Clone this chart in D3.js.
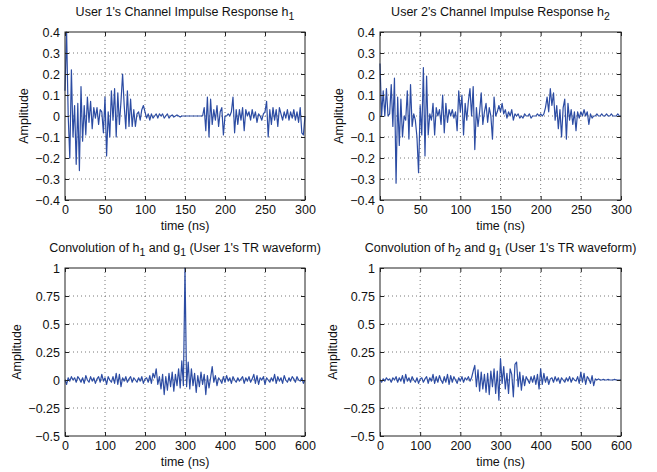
<!DOCTYPE html>
<html lang="en">
  <head>
    <meta charset="UTF-8" />
    <title>Channel Impulse Response and TR Convolution</title>
    <script src="https://d3js.org/d3.v7.min.js"></script>
    <style>
      body { margin: 0; background: #fff; }
      svg { font-family: "Liberation Sans", Arial, Helvetica, sans-serif; }
      .grid line { stroke: #555; stroke-dasharray: 1, 3; stroke-width: 0.8; }
      .tick-lbl { font-size: 12.5px; fill: #111; }
    </style>
  </head>
  <body>
    <svg id="canvas"></svg>
  </body>
  <script>
    // h1, sampled every 2 ns from 0 to 300 ns
    let h1 = [
      0.12, 0.40, 0.00, -0.20, 0.22, -0.10, 0.05, -0.23, 0.06, -0.26,
      0.14, -0.12, 0.05, -0.09, 0.09, -0.03, 0.07, -0.06, 0.04, -0.01,
      0.04, -0.04, 0.03, 0.02, -0.08, 0.09, -0.19, 0.02, -0.10, 0.12,
      -0.02, 0.13, -0.10, 0.11, -0.04, 0.07, 0.20, 0.05, -0.06, 0.12,
      -0.05, 0.08, -0.05, 0.03, -0.05, 0.01, 0.02, -0.02, 0.03, 0.05,
      0.02, -0.01, 0.01, -0.02, 0.01, -0.01, 0.00, 0.01, -0.01, 0.01,
      0.00, 0.01, -0.01, 0.00, 0.01, -0.01, 0.00, 0.005, -0.005, 0.00,
      0.005, 0.00, -0.005, 0.00, 0.00, 0.00, 0.00, 0.00, 0.00, 0.00,
      0.00, 0.00, 0.00, 0.00, 0.00, 0.00, 0.00, 0.04, -0.07, 0.09,
      -0.10, 0.08, -0.04, 0.03, -0.02, 0.05, -0.05, 0.02, 0.04, -0.09,
      0.00, 0.00, 0.01, 0.00, 0.02, 0.09, -0.08, 0.03, -0.04, 0.03,
      -0.02, 0.04, -0.07, 0.03, 0.00, 0.02, -0.02, 0.03, -0.01, 0.02,
      -0.03, 0.01, 0.00, -0.02, 0.01, 0.02, 0.07, -0.10, 0.03, -0.04,
      0.04, -0.02, 0.03, -0.05, 0.04, 0.01, -0.02, 0.02, -0.01, 0.03,
      -0.02, 0.02, -0.01, 0.03, -0.02, 0.02, -0.03, 0.04, -0.08, -0.09,
      0.00
    ];

    // h2, sampled every 2 ns from 0 to 300 ns
    let h2 = [
      0.25, 0.00, 0.12, 0.00, 0.13, 0.00, 0.01, 0.15, -0.05, 0.18,
      -0.32, 0.09, -0.14, 0.08, -0.10, 0.00, -0.02, 0.12, -0.11, 0.15,
      -0.05, 0.01, -0.02, -0.10, -0.27, 0.05, -0.09, 0.23, -0.19, 0.19,
      -0.09, 0.01, -0.02, 0.06, -0.09, 0.04, 0.00, 0.03, -0.04, 0.10,
      -0.08, 0.06, -0.03, 0.03, 0.00, 0.03, -0.01, 0.02, -0.07, 0.12,
      0.02, 0.10, -0.09, 0.06, -0.02, 0.07, 0.13, 0.00, 0.14, -0.16,
      0.04, -0.05, 0.02, 0.11, -0.04, 0.02, 0.06, -0.03, 0.04, 0.00,
      -0.11, 0.09, 0.00, 0.02, 0.05, 0.02, 0.06, 0.01, 0.03, -0.01,
      0.02, 0.00, 0.03, -0.02, 0.01, 0.00, 0.01, -0.01, 0.00, -0.01,
      0.01, 0.00, 0.00, 0.01, -0.01, 0.00, 0.00, 0.00, 0.01, 0.00,
      0.01, 0.00, 0.01, 0.04, 0.09, 0.02, 0.13, 0.05, 0.11, -0.02,
      0.05, -0.06, 0.03, -0.10, 0.04, 0.08, -0.11, 0.06, -0.02, 0.03,
      -0.04, 0.02, -0.07, 0.02, -0.01, 0.02, 0.00, 0.03, 0.00, 0.02,
      -0.04, 0.01, -0.01, 0.00, 0.00, 0.01, 0.00, 0.00, 0.01, 0.00,
      0.00, 0.01, 0.00, 0.00, 0.01, 0.00, 0.00, 0.00, 0.01, 0.00,
      0.00
    ];

    // h1 * g1, sampled every 4 ns from 0 to 600 ns
    let conv1 = [
      0.00, -0.04, 0.02, -0.01, 0.03, 0.00, 0.02, -0.02, 0.03, 0.01,
      -0.02, 0.02, -0.03, 0.04, 0.00, -0.02, 0.03, -0.01, 0.02, -0.03,
      0.01, 0.03, -0.02, 0.05, -0.01, 0.02, -0.04, 0.03, 0.00, -0.02,
      0.03, -0.03, 0.06, -0.04, 0.05, -0.06, 0.02, -0.01, 0.03, -0.02,
      0.01, 0.03, -0.02, 0.02, 0.00, -0.02, 0.02, -0.01, 0.03, -0.03,
      0.01, 0.02, -0.02, 0.04, -0.03, 0.06, 0.02, 0.10, -0.04, 0.03,
      -0.08, 0.05, -0.13, 0.03, -0.09, 0.06, -0.06, 0.07, -0.10, 0.05,
      -0.05, 0.10, -0.07, 0.17, -0.05, 1.00, -0.06, 0.16, -0.08, 0.10,
      -0.05, 0.06, -0.11, 0.04, -0.06, 0.07, -0.04, 0.05, -0.13, 0.04,
      -0.07, 0.02, 0.12, -0.02, 0.04, -0.05, 0.02, 0.00, -0.03, 0.03,
      -0.02, 0.04, -0.01, 0.02, -0.03, 0.03, 0.00, -0.02, 0.02, -0.01,
      0.01, 0.03, -0.03, 0.02, -0.01, 0.03, -0.02, 0.01, 0.05, -0.03,
      0.04, -0.04, 0.02, 0.00, 0.03, -0.04, 0.02, 0.00, -0.02, 0.02,
      -0.01, 0.05, -0.03, 0.03, -0.01, 0.02, -0.03, 0.04, 0.00, -0.02,
      0.02, -0.01, 0.03, 0.01, -0.02, 0.03, 0.00, -0.01, 0.02, -0.03,
      0.00
    ];

    // h2 * g1, sampled every 4 ns from 0 to 600 ns
    let conv2 = [
      0.00, -0.02, 0.01, -0.01, 0.02, 0.00, 0.01, -0.02, 0.02, 0.00,
      0.03, -0.02, 0.02, -0.01, 0.04, -0.03, 0.05, -0.01, 0.02, -0.02,
      0.03, 0.00, -0.02, 0.02, -0.03, 0.01, 0.02, -0.02, 0.01, 0.03,
      -0.03, 0.02, -0.01, 0.05, -0.03, 0.03, -0.02, 0.04, 0.00, -0.03,
      0.03, -0.02, 0.05, -0.04, 0.04, -0.02, 0.03, 0.00, -0.03, 0.02,
      -0.01, 0.03, -0.02, 0.02, 0.00, 0.03, -0.01, 0.02, 0.08, 0.13,
      -0.06, 0.09, -0.10, 0.07, -0.08, 0.05, -0.11, 0.06, -0.13, 0.08,
      -0.06, 0.10, -0.12, 0.08, -0.18, 0.19, -0.03, 0.12, -0.08, 0.06,
      -0.12, 0.10, 0.05, -0.15, 0.14, 0.16, -0.06, 0.07, -0.09, 0.04,
      -0.05, 0.03, 0.00, -0.03, 0.03, -0.02, 0.04, -0.04, 0.05, -0.08,
      0.10, -0.04, 0.06, -0.02, 0.03, -0.04, 0.01, 0.02, -0.02, 0.03,
      -0.01, 0.02, -0.03, 0.02, 0.00, -0.02, 0.02, -0.01, 0.03, -0.02,
      0.02, 0.00, -0.01, 0.03, -0.03, 0.07, -0.02, 0.06, -0.04, 0.03,
      0.01, -0.03, 0.04, -0.05, 0.01, 0.00, 0.01, 0.00, 0.00, 0.005,
      0.00, 0.00, 0.005, 0.00, 0.00, 0.00, 0.005, 0.00, 0.00, 0.00,
      0.00
    ];

    let hTicksX = [0, 50, 100, 150, 200, 250, 300];
    let hTicksY = [-0.4, -0.3, -0.2, -0.1, 0, 0.1, 0.2, 0.3, 0.4];
    let cTicksX = [0, 100, 200, 300, 400, 500, 600];
    let cTicksY = [-0.5, -0.25, 0, 0.25, 0.5, 0.75, 1];

    let titles = [
      ["User 1's Channel Impulse Response h", "1", ""],
      ["User 2's Channel Impulse Response h", "2", ""],
      ["Convolution of h", "1", " and g", "1", " (User 1's TR waveform)"],
      ["Convolution of h", "2", " and g", "1", " (User 1's TR waveform)"]
    ];

    let width = 657;
    let height = 472;
    let lineColor = "#2c4ca3";

    let svg = d3.select("svg").attr("width", width).attr("height", height);

    let fmt = (v) => (v < 0 ? "\u2212" + Math.abs(v) : String(v));

    let drawPanel = (p) => {
      let xScale = d3.scaleLinear().domain(p.xDomain).range([p.left, p.right]);
      let yScale = d3.scaleLinear().domain(p.yDomain).range([p.bottom, p.top]);
      let g = svg.append("g");

      // dotted grid
      let grid = g.append("g").attr("class", "grid");
      grid.selectAll(".gx")
        .data(p.xTicks.slice(1, -1))
        .enter()
        .append("line")
        .attr("x1", (d) => xScale(d))
        .attr("x2", (d) => xScale(d))
        .attr("y1", p.top)
        .attr("y2", p.bottom);
      grid.selectAll(".gy")
        .data(p.yTicks.slice(1, -1))
        .enter()
        .append("line")
        .attr("x1", p.left)
        .attr("x2", p.right)
        .attr("y1", (d) => yScale(d))
        .attr("y2", (d) => yScale(d));

      // signal
      let line = d3.line()
        .x((d, i) => xScale(i * p.step))
        .y((d) => yScale(d));
      g.append("path")
        .datum(p.values)
        .attr("fill", "none")
        .attr("stroke", lineColor)
        .attr("stroke-width", 1.2)
        .attr("stroke-linejoin", "round")
        .attr("d", line);

      // axes with inward ticks on all four sides
      let tick = 4;
      let axes = [
        g.append("g")
          .attr("transform", "translate(0," + p.bottom + ")")
          .call(d3.axisBottom(xScale).tickValues(p.xTicks).tickSize(-tick).tickPadding(5).tickFormat(fmt)),
        g.append("g")
          .attr("transform", "translate(0," + p.top + ")")
          .call(d3.axisTop(xScale).tickValues(p.xTicks).tickSize(-tick).tickFormat("")),
        g.append("g")
          .attr("transform", "translate(" + p.left + ",0)")
          .call(d3.axisLeft(yScale).tickValues(p.yTicks).tickSize(-tick).tickPadding(5).tickFormat(fmt)),
        g.append("g")
          .attr("transform", "translate(" + p.right + ",0)")
          .call(d3.axisRight(yScale).tickValues(p.yTicks).tickSize(-tick).tickFormat(""))
      ];
      axes.forEach((a) => {
        a.attr("font-family", null).attr("font-size", null);
        a.select(".domain").remove();
      });
      g.selectAll(".tick line").attr("stroke", "#222");
      g.selectAll(".tick text").attr("class", "tick-lbl");

      g.append("rect")
        .attr("x", p.left)
        .attr("y", p.top)
        .attr("width", p.right - p.left)
        .attr("height", p.bottom - p.top)
        .attr("fill", "none")
        .attr("stroke", "#222")
        .attr("stroke-width", 1);

      // title with subscripts
      let t = g.append("text")
        .attr("x", (p.left + p.right) / 2)
        .attr("y", p.top - 16)
        .attr("text-anchor", "middle")
        .attr("font-size", 12.5)
        .attr("fill", "#111");
      p.title.forEach((part, i) => {
        if (part === "") return;
        let sub = i % 2 === 1;
        t.append("tspan")
          .attr("font-size", sub ? 10.5 : 12.5)
          .attr("dy", sub ? 3.5 : (i > 0 ? -3.5 : 0))
          .text(part);
      });

      g.append("text")
        .attr("x", (p.left + p.right) / 2)
        .attr("y", p.bottom + 30)
        .attr("text-anchor", "middle")
        .attr("font-size", 12.5)
        .attr("fill", "#111")
        .text("time (ns)");

      g.append("text")
        .attr("transform", "translate(" + p.yLabelX + "," + (p.top + p.bottom) / 2 + ") rotate(-90)")
        .attr("text-anchor", "middle")
        .attr("font-size", 12.5)
        .attr("fill", "#111")
        .text("Amplitude");
    };

    drawPanel({ values: h1, step: 2, xDomain: [0, 300], yDomain: [-0.4, 0.4], xTicks: hTicksX, yTicks: hTicksY,
      left: 65, right: 305, top: 32, bottom: 200, yLabelX: 28, title: titles[0] });
    drawPanel({ values: h2, step: 2, xDomain: [0, 300], yDomain: [-0.4, 0.4], xTicks: hTicksX, yTicks: hTicksY,
      left: 380, right: 621, top: 32, bottom: 200, yLabelX: 343, title: titles[1] });
    drawPanel({ values: conv1, step: 4, xDomain: [0, 600], yDomain: [-0.5, 1], xTicks: cTicksX, yTicks: cTicksY,
      left: 65, right: 305, top: 268, bottom: 436, yLabelX: 21, title: titles[2] });
    drawPanel({ values: conv2, step: 4, xDomain: [0, 600], yDomain: [-0.5, 1], xTicks: cTicksX, yTicks: cTicksY,
      left: 380, right: 621, top: 268, bottom: 436, yLabelX: 337, title: titles[3] });
  </script>
</html>
